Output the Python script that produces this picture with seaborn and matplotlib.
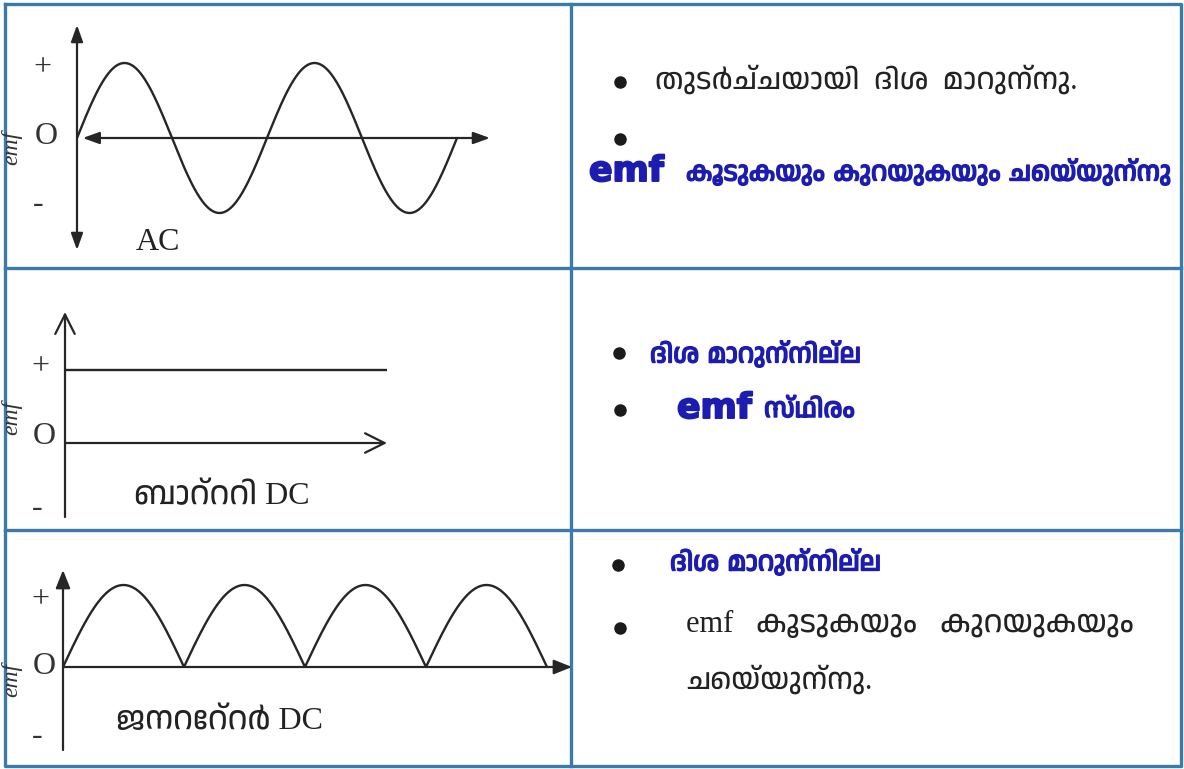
import numpy as np
import pandas as pd
import seaborn as sns
import matplotlib
matplotlib.use("Agg")
import matplotlib.pyplot as plt
import matplotlib.patheffects as pe
from matplotlib import font_manager
from matplotlib.ft2font import FT2Font

# ---- content -------------------------------------------------------------
wave_names = ["AC", "ബാറ്ററി DC", "ജനറേറ്റർ DC"]
ac_cycles = 2            # full sine periods drawn for AC
ac_amplitude = 1.0
battery_level = 1.0      # constant emf of the battery
generator_humps = 4      # rectified half-waves of the generator
generator_amplitude = 1.0
sign_labels = ["+", "O", "-"]
axis_label = "emf"

row1_lines = ["തുടർച്ചയായി  ദിശ  മാറുന്നു.", "കൂടുകയും കുറയുകയും ചെയ്യുന്നു"]
row2_lines = ["ദിശ മാറുന്നില്ല", "സ്ഥിരം"]
row3_lines = ["ദിശ മാറുന്നില്ല", "emf   കൂടുകയും   കുറയുകയും", "ചെയ്യുന്നു."]

INK = "#262626"
BORDER = "#3c7aaa"
BLUE = "#1c1cb0"


def find_family(ch):
    """Return an installed family that has a glyph for ch, if any."""
    entries = font_manager.fontManager.ttflist
    preferred = [e for e in entries if "malayalam" in e.name.lower()]
    for e in preferred + entries:
        if "CJK" in e.name:
            continue
        try:
            if ord(ch) in FT2Font(e.fname).get_charmap():
                return e.name
        except Exception:
            continue
    return None


sns.set_theme(style="white")
mal = find_family("മ")
mal_list = [mal] if mal else []
plt.rcParams["font.family"] = ["DejaVu Sans"] + mal_list
serif_mal = ["Liberation Serif"] + mal_list + ["DejaVu Sans"]
sans_mal = ["DejaVu Sans"] + mal_list
heavy = [pe.withStroke(linewidth=1.1, foreground=BLUE)]
heavier = [pe.withStroke(linewidth=1.4, foreground=BLUE)]

W, H = 1184, 769
fig = plt.figure(figsize=(W / 100, H / 100), dpi=100, facecolor="white")

# base layer in pixel units for the table frame and the text
base = fig.add_axes([0, 0, 1, 1])
base.set_xlim(0, W)
base.set_ylim(H, 0)
base.axis("off")

frame_kw = dict(color=BORDER, lw=2.4, solid_capstyle="projecting")
base.plot([5, 1181, 1181, 5, 5], [4, 4, 766, 766, 4], **frame_kw)
base.plot([571, 571], [4, 766], **frame_kw)
base.plot([5, 1181], [268, 268], **frame_kw)
base.plot([5, 1181], [530, 530], **frame_kw)


def diagram_axes(x0, y0, x1, y1, xlim, ylim):
    ax = fig.add_axes([x0 / W, 1 - y1 / H, (x1 - x0) / W, (y1 - y0) / H])
    ax.set_xlim(*xlim)
    ax.set_ylim(*ylim)
    ax.axis("off")
    ax.patch.set_alpha(0)
    return ax


def arrow(ax, start, end, style):
    ax.annotate("", xy=end, xytext=start,
                arrowprops=dict(arrowstyle=style, color=INK, lw=1.6,
                                shrinkA=0, shrinkB=0, mutation_scale=20))


filled = "-|>,head_length=0.55,head_width=0.22"
both = "<|-|>,head_length=0.5,head_width=0.18"
open_head = "->,head_length=0.7,head_width=0.35"
CURVE_LW = 1.7

# ---- row 1: alternating current --------------------------------------------
ax1 = diagram_axes(77, 25, 490, 250, (0, 413 / 190), (-112 / 75, 113 / 75))
t1 = np.linspace(0, ac_cycles, 400)
df1 = pd.DataFrame({"t": t1, "emf": ac_amplitude * np.sin(2 * np.pi * t1)})
sns.lineplot(data=df1, x="t", y="emf", ax=ax1, color=INK, lw=CURVE_LW, sort=False)
arrow(ax1, (0, -112 / 75), (0, 113 / 75), both)
arrow(ax1, (0.03, 0), (413 / 190, 0), both)

# ---- row 2: battery ---------------------------------------------------------
ax2 = diagram_axes(65, 312, 387, 517, (0, 1), (-74 / 73, 131 / 73))
df2 = pd.DataFrame({"t": [0.0, 1.0], "emf": [battery_level, battery_level]})
sns.lineplot(data=df2, x="t", y="emf", ax=ax2, color=INK, lw=CURVE_LW)
arrow(ax2, (0, -74 / 73), (0, 131 / 73), open_head)
arrow(ax2, (0, 0), (1, 0), open_head)

# ---- row 3: generator -------------------------------------------------------
ax3 = diagram_axes(63, 570, 572, 750, (0, 509 / 121), (-83 / 82, 97 / 82))
t3 = np.linspace(0, generator_humps, 600)
df3 = pd.DataFrame({"t": t3,
                    "emf": generator_amplitude * np.abs(np.sin(np.pi * t3))})
sns.lineplot(data=df3, x="t", y="emf", ax=ax3, color=INK, lw=CURVE_LW, sort=False)
arrow(ax3, (0, -83 / 82), (0, 97 / 82), filled)
arrow(ax3, (0, 0), (509 / 121, 0), filled)

# ---- axis marks and names ---------------------------------------------------
sign_rows = [(68, 137, 205), (367, 437, 508), (600, 666, 737)]
sign_x = [(42, 46, 38), (40, 44, 37), (40, 44, 37)]
for ys, xs in zip(sign_rows, sign_x):
    for lab, x, y in zip(sign_labels, xs, ys):
        base.text(x, y, lab, family="Liberation Serif", fontsize=23,
                  color="#333333", ha="center", va="center")
for y in (148, 418, 680):
    base.text(12, y, axis_label, family="Liberation Serif", style="italic",
              fontsize=17, color="#333333", rotation=90,
              ha="center", va="center")

name_pos = [(158, 243), (222, 497), (220, 722)]
for name, (x, y) in zip(wave_names, name_pos):
    base.text(x, y, name, family=serif_mal, fontsize=23, color="#222222",
              ha="center", va="center")

# ---- right column -----------------------------------------------------------
bullets = [(620, 82), (620, 139), (619, 353), (620, 410), (618, 565), (620, 628)]
bx, by = zip(*bullets)
base.plot(bx, by, "o", color="#1a1a1a", ms=8)

base.text(655, 80, row1_lines[0], family=serif_mal, fontsize=21,
          color="#222222", va="center")
base.text(589, 171, axis_label, family="DejaVu Sans", weight="bold",
          fontsize=25, color=BLUE, va="center", path_effects=heavier)
base.text(686, 173, row1_lines[1], family=sans_mal, fontsize=19,
          color=BLUE, va="center", path_effects=heavy)

base.text(650, 355, row2_lines[0], family=sans_mal, fontsize=19,
          color=BLUE, va="center", path_effects=heavy)
base.text(677, 408, axis_label, family="DejaVu Sans", weight="bold",
          fontsize=25, color=BLUE, va="center", path_effects=heavier)
base.text(764, 410, row2_lines[1], family=sans_mal, fontsize=19,
          color=BLUE, va="center", path_effects=heavy)

base.text(670, 563, row3_lines[0], family=sans_mal, fontsize=19,
          color=BLUE, va="center", path_effects=heavy)
base.text(686, 625, row3_lines[1], family=serif_mal, fontsize=22,
          color="#222222", va="center")
base.text(686, 680, row3_lines[2], family=serif_mal, fontsize=21,
          color="#222222", va="center")

fig.savefig("out.png", dpi=100, facecolor="white")
